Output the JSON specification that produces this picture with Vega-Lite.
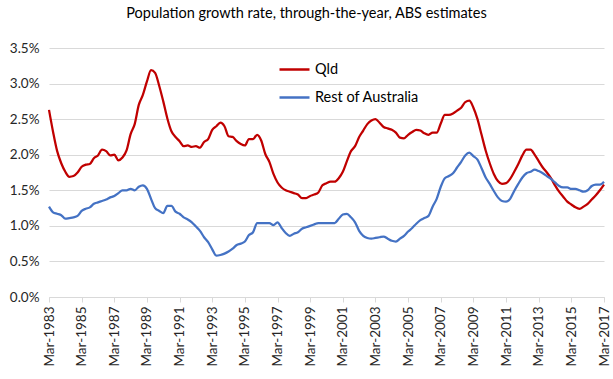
{
 "$schema": "https://vega.github.io/schema/vega-lite/v6.json",
 "width": 555, "height": 249,
 "autosize": {"type": "none"},
 "padding": {"left": 49, "top": 48, "right": 9, "bottom": 82},
 "background": "white",
 "title": {"text": "Population growth rate, through-the-year, ABS estimates", "fontSize": 14.5, "font": "Lato", "fontWeight": "normal", "color": "#000000", "anchor": "middle", "dx": -20, "offset": 20},
 "data": {"values": [
{"d":"Mar-1983","Qld":2.63,"Rest of Australia":1.27},
{"d":"Jun-1983","Qld":2.32,"Rest of Australia":1.19},
{"d":"Sep-1983","Qld":2.05,"Rest of Australia":1.17},
{"d":"Dec-1983","Qld":1.88,"Rest of Australia":1.15},
{"d":"Mar-1984","Qld":1.76,"Rest of Australia":1.10},
{"d":"Jun-1984","Qld":1.69,"Rest of Australia":1.11},
{"d":"Sep-1984","Qld":1.70,"Rest of Australia":1.12},
{"d":"Dec-1984","Qld":1.75,"Rest of Australia":1.14},
{"d":"Mar-1985","Qld":1.83,"Rest of Australia":1.21},
{"d":"Jun-1985","Qld":1.86,"Rest of Australia":1.24},
{"d":"Sep-1985","Qld":1.87,"Rest of Australia":1.26},
{"d":"Dec-1985","Qld":1.95,"Rest of Australia":1.31},
{"d":"Mar-1986","Qld":1.99,"Rest of Australia":1.33},
{"d":"Jun-1986","Qld":2.07,"Rest of Australia":1.35},
{"d":"Sep-1986","Qld":2.05,"Rest of Australia":1.37},
{"d":"Dec-1986","Qld":1.99,"Rest of Australia":1.40},
{"d":"Mar-1987","Qld":2.00,"Rest of Australia":1.42},
{"d":"Jun-1987","Qld":1.92,"Rest of Australia":1.46},
{"d":"Sep-1987","Qld":1.96,"Rest of Australia":1.50},
{"d":"Dec-1987","Qld":2.06,"Rest of Australia":1.50},
{"d":"Mar-1988","Qld":2.29,"Rest of Australia":1.52},
{"d":"Jun-1988","Qld":2.43,"Rest of Australia":1.50},
{"d":"Sep-1988","Qld":2.70,"Rest of Australia":1.55},
{"d":"Dec-1988","Qld":2.84,"Rest of Australia":1.57},
{"d":"Mar-1989","Qld":3.03,"Rest of Australia":1.52},
{"d":"Jun-1989","Qld":3.19,"Rest of Australia":1.38},
{"d":"Sep-1989","Qld":3.15,"Rest of Australia":1.25},
{"d":"Dec-1989","Qld":2.97,"Rest of Australia":1.21},
{"d":"Mar-1990","Qld":2.75,"Rest of Australia":1.18},
{"d":"Jun-1990","Qld":2.51,"Rest of Australia":1.28},
{"d":"Sep-1990","Qld":2.33,"Rest of Australia":1.28},
{"d":"Dec-1990","Qld":2.25,"Rest of Australia":1.20},
{"d":"Mar-1991","Qld":2.19,"Rest of Australia":1.17},
{"d":"Jun-1991","Qld":2.12,"Rest of Australia":1.12},
{"d":"Sep-1991","Qld":2.13,"Rest of Australia":1.09},
{"d":"Dec-1991","Qld":2.11,"Rest of Australia":1.05},
{"d":"Mar-1992","Qld":2.12,"Rest of Australia":0.99},
{"d":"Jun-1992","Qld":2.10,"Rest of Australia":0.93},
{"d":"Sep-1992","Qld":2.18,"Rest of Australia":0.84},
{"d":"Dec-1992","Qld":2.22,"Rest of Australia":0.77},
{"d":"Mar-1993","Qld":2.35,"Rest of Australia":0.67},
{"d":"Jun-1993","Qld":2.40,"Rest of Australia":0.58},
{"d":"Sep-1993","Qld":2.45,"Rest of Australia":0.59},
{"d":"Dec-1993","Qld":2.40,"Rest of Australia":0.61},
{"d":"Mar-1994","Qld":2.26,"Rest of Australia":0.64},
{"d":"Jun-1994","Qld":2.25,"Rest of Australia":0.68},
{"d":"Sep-1994","Qld":2.19,"Rest of Australia":0.73},
{"d":"Dec-1994","Qld":2.15,"Rest of Australia":0.75},
{"d":"Mar-1995","Qld":2.13,"Rest of Australia":0.78},
{"d":"Jun-1995","Qld":2.22,"Rest of Australia":0.87},
{"d":"Sep-1995","Qld":2.22,"Rest of Australia":0.91},
{"d":"Dec-1995","Qld":2.28,"Rest of Australia":1.04},
{"d":"Mar-1996","Qld":2.20,"Rest of Australia":1.04},
{"d":"Jun-1996","Qld":2.01,"Rest of Australia":1.04},
{"d":"Sep-1996","Qld":1.90,"Rest of Australia":1.04},
{"d":"Dec-1996","Qld":1.73,"Rest of Australia":1.01},
{"d":"Mar-1997","Qld":1.61,"Rest of Australia":1.05},
{"d":"Jun-1997","Qld":1.54,"Rest of Australia":0.97},
{"d":"Sep-1997","Qld":1.50,"Rest of Australia":0.90},
{"d":"Dec-1997","Qld":1.48,"Rest of Australia":0.86},
{"d":"Mar-1998","Qld":1.46,"Rest of Australia":0.89},
{"d":"Jun-1998","Qld":1.44,"Rest of Australia":0.91},
{"d":"Sep-1998","Qld":1.39,"Rest of Australia":0.96},
{"d":"Dec-1998","Qld":1.39,"Rest of Australia":0.98},
{"d":"Mar-1999","Qld":1.42,"Rest of Australia":1.00},
{"d":"Jun-1999","Qld":1.44,"Rest of Australia":1.02},
{"d":"Sep-1999","Qld":1.47,"Rest of Australia":1.04},
{"d":"Dec-1999","Qld":1.57,"Rest of Australia":1.04},
{"d":"Mar-2000","Qld":1.60,"Rest of Australia":1.04},
{"d":"Jun-2000","Qld":1.62,"Rest of Australia":1.04},
{"d":"Sep-2000","Qld":1.62,"Rest of Australia":1.04},
{"d":"Dec-2000","Qld":1.67,"Rest of Australia":1.10},
{"d":"Mar-2001","Qld":1.76,"Rest of Australia":1.16},
{"d":"Jun-2001","Qld":1.91,"Rest of Australia":1.17},
{"d":"Sep-2001","Qld":2.05,"Rest of Australia":1.12},
{"d":"Dec-2001","Qld":2.12,"Rest of Australia":1.05},
{"d":"Mar-2002","Qld":2.25,"Rest of Australia":0.93},
{"d":"Jun-2002","Qld":2.34,"Rest of Australia":0.86},
{"d":"Sep-2002","Qld":2.43,"Rest of Australia":0.83},
{"d":"Dec-2002","Qld":2.48,"Rest of Australia":0.82},
{"d":"Mar-2003","Qld":2.50,"Rest of Australia":0.83},
{"d":"Jun-2003","Qld":2.45,"Rest of Australia":0.84},
{"d":"Sep-2003","Qld":2.39,"Rest of Australia":0.85},
{"d":"Dec-2003","Qld":2.37,"Rest of Australia":0.82},
{"d":"Mar-2004","Qld":2.35,"Rest of Australia":0.79},
{"d":"Jun-2004","Qld":2.31,"Rest of Australia":0.78},
{"d":"Sep-2004","Qld":2.24,"Rest of Australia":0.82},
{"d":"Dec-2004","Qld":2.23,"Rest of Australia":0.86},
{"d":"Mar-2005","Qld":2.28,"Rest of Australia":0.92},
{"d":"Jun-2005","Qld":2.32,"Rest of Australia":0.97},
{"d":"Sep-2005","Qld":2.35,"Rest of Australia":1.03},
{"d":"Dec-2005","Qld":2.34,"Rest of Australia":1.08},
{"d":"Mar-2006","Qld":2.30,"Rest of Australia":1.11},
{"d":"Jun-2006","Qld":2.28,"Rest of Australia":1.14},
{"d":"Sep-2006","Qld":2.31,"Rest of Australia":1.27},
{"d":"Dec-2006","Qld":2.31,"Rest of Australia":1.38},
{"d":"Mar-2007","Qld":2.44,"Rest of Australia":1.55},
{"d":"Jun-2007","Qld":2.56,"Rest of Australia":1.67},
{"d":"Sep-2007","Qld":2.56,"Rest of Australia":1.70},
{"d":"Dec-2007","Qld":2.58,"Rest of Australia":1.74},
{"d":"Mar-2008","Qld":2.62,"Rest of Australia":1.82},
{"d":"Jun-2008","Qld":2.66,"Rest of Australia":1.90},
{"d":"Sep-2008","Qld":2.74,"Rest of Australia":1.99},
{"d":"Dec-2008","Qld":2.76,"Rest of Australia":2.03},
{"d":"Mar-2009","Qld":2.66,"Rest of Australia":1.98},
{"d":"Jun-2009","Qld":2.50,"Rest of Australia":1.93},
{"d":"Sep-2009","Qld":2.28,"Rest of Australia":1.81},
{"d":"Dec-2009","Qld":2.06,"Rest of Australia":1.68},
{"d":"Mar-2010","Qld":1.88,"Rest of Australia":1.59},
{"d":"Jun-2010","Qld":1.73,"Rest of Australia":1.49},
{"d":"Sep-2010","Qld":1.63,"Rest of Australia":1.40},
{"d":"Dec-2010","Qld":1.59,"Rest of Australia":1.35},
{"d":"Mar-2011","Qld":1.60,"Rest of Australia":1.34},
{"d":"Jun-2011","Qld":1.66,"Rest of Australia":1.38},
{"d":"Sep-2011","Qld":1.76,"Rest of Australia":1.49},
{"d":"Dec-2011","Qld":1.87,"Rest of Australia":1.59},
{"d":"Mar-2012","Qld":1.99,"Rest of Australia":1.68},
{"d":"Jun-2012","Qld":2.07,"Rest of Australia":1.74},
{"d":"Sep-2012","Qld":2.07,"Rest of Australia":1.76},
{"d":"Dec-2012","Qld":2.00,"Rest of Australia":1.79},
{"d":"Mar-2013","Qld":1.91,"Rest of Australia":1.77},
{"d":"Jun-2013","Qld":1.82,"Rest of Australia":1.74},
{"d":"Sep-2013","Qld":1.75,"Rest of Australia":1.70},
{"d":"Dec-2013","Qld":1.67,"Rest of Australia":1.66},
{"d":"Mar-2014","Qld":1.57,"Rest of Australia":1.61},
{"d":"Jun-2014","Qld":1.48,"Rest of Australia":1.56},
{"d":"Sep-2014","Qld":1.41,"Rest of Australia":1.54},
{"d":"Dec-2014","Qld":1.34,"Rest of Australia":1.54},
{"d":"Mar-2015","Qld":1.30,"Rest of Australia":1.52},
{"d":"Jun-2015","Qld":1.26,"Rest of Australia":1.52},
{"d":"Sep-2015","Qld":1.24,"Rest of Australia":1.50},
{"d":"Dec-2015","Qld":1.27,"Rest of Australia":1.48},
{"d":"Mar-2016","Qld":1.31,"Rest of Australia":1.50},
{"d":"Jun-2016","Qld":1.37,"Rest of Australia":1.56},
{"d":"Sep-2016","Qld":1.43,"Rest of Australia":1.58},
{"d":"Dec-2016","Qld":1.50,"Rest of Australia":1.58},
{"d":"Mar-2017","Qld":1.58,"Rest of Australia":1.62}
 ]},
 "transform": [{"fold": ["Qld", "Rest of Australia"], "as": ["series", "value"]}],
 "mark": {"type": "line", "strokeWidth": 2.25, "interpolate": "monotone"},
 "encoding": {
  "x": {"field": "d", "type": "ordinal", "sort": null,
        "scale": {"type": "point", "padding": 0},
        "axis": {"title": null, "values": ["Mar-1983","Mar-1985","Mar-1987","Mar-1989","Mar-1991","Mar-1993","Mar-1995","Mar-1997","Mar-1999","Mar-2001","Mar-2003","Mar-2005","Mar-2007","Mar-2009","Mar-2011","Mar-2013","Mar-2015","Mar-2017"],
                 "labelAngle": -90, "labelFont": "Lato", "labelFontSize": 13.5, "labelColor": "#262626", "labelPadding": 4,
                 "domainColor": "#D9D9D9", "domainWidth": 1, "tickColor": "#D9D9D9", "tickSize": 5, "grid": false}},
  "y": {"field": "value", "type": "quantitative",
        "scale": {"domain": [0, 3.5], "nice": false},
        "axis": {"title": null, "values": [0, 0.5, 1, 1.5, 2, 2.5, 3, 3.5],
                 "labelExpr": "format(datum.value, '.1f') + '%'",
                 "labelFont": "Lato", "labelFontSize": 13.5, "labelColor": "#262626", "labelPadding": 10,
                 "domain": false, "ticks": false, "grid": true, "gridColor": "#D9D9D9", "gridWidth": 1}},
  "color": {"field": "series", "type": "nominal",
            "scale": {"domain": ["Qld", "Rest of Australia"], "range": ["#C00000", "#4472C4"]},
            "legend": {"title": null, "orient": "none", "legendX": 229, "legendY": 5,
                       "symbolType": "stroke", "symbolSize": 900, "symbolStrokeWidth": 2.5,
                       "labelFont": "Lato", "labelFontSize": 14.5, "labelColor": "#000000", "labelOffset": 4, "rowPadding": 5}}
 },
 "config": {"view": {"stroke": null}}
}
